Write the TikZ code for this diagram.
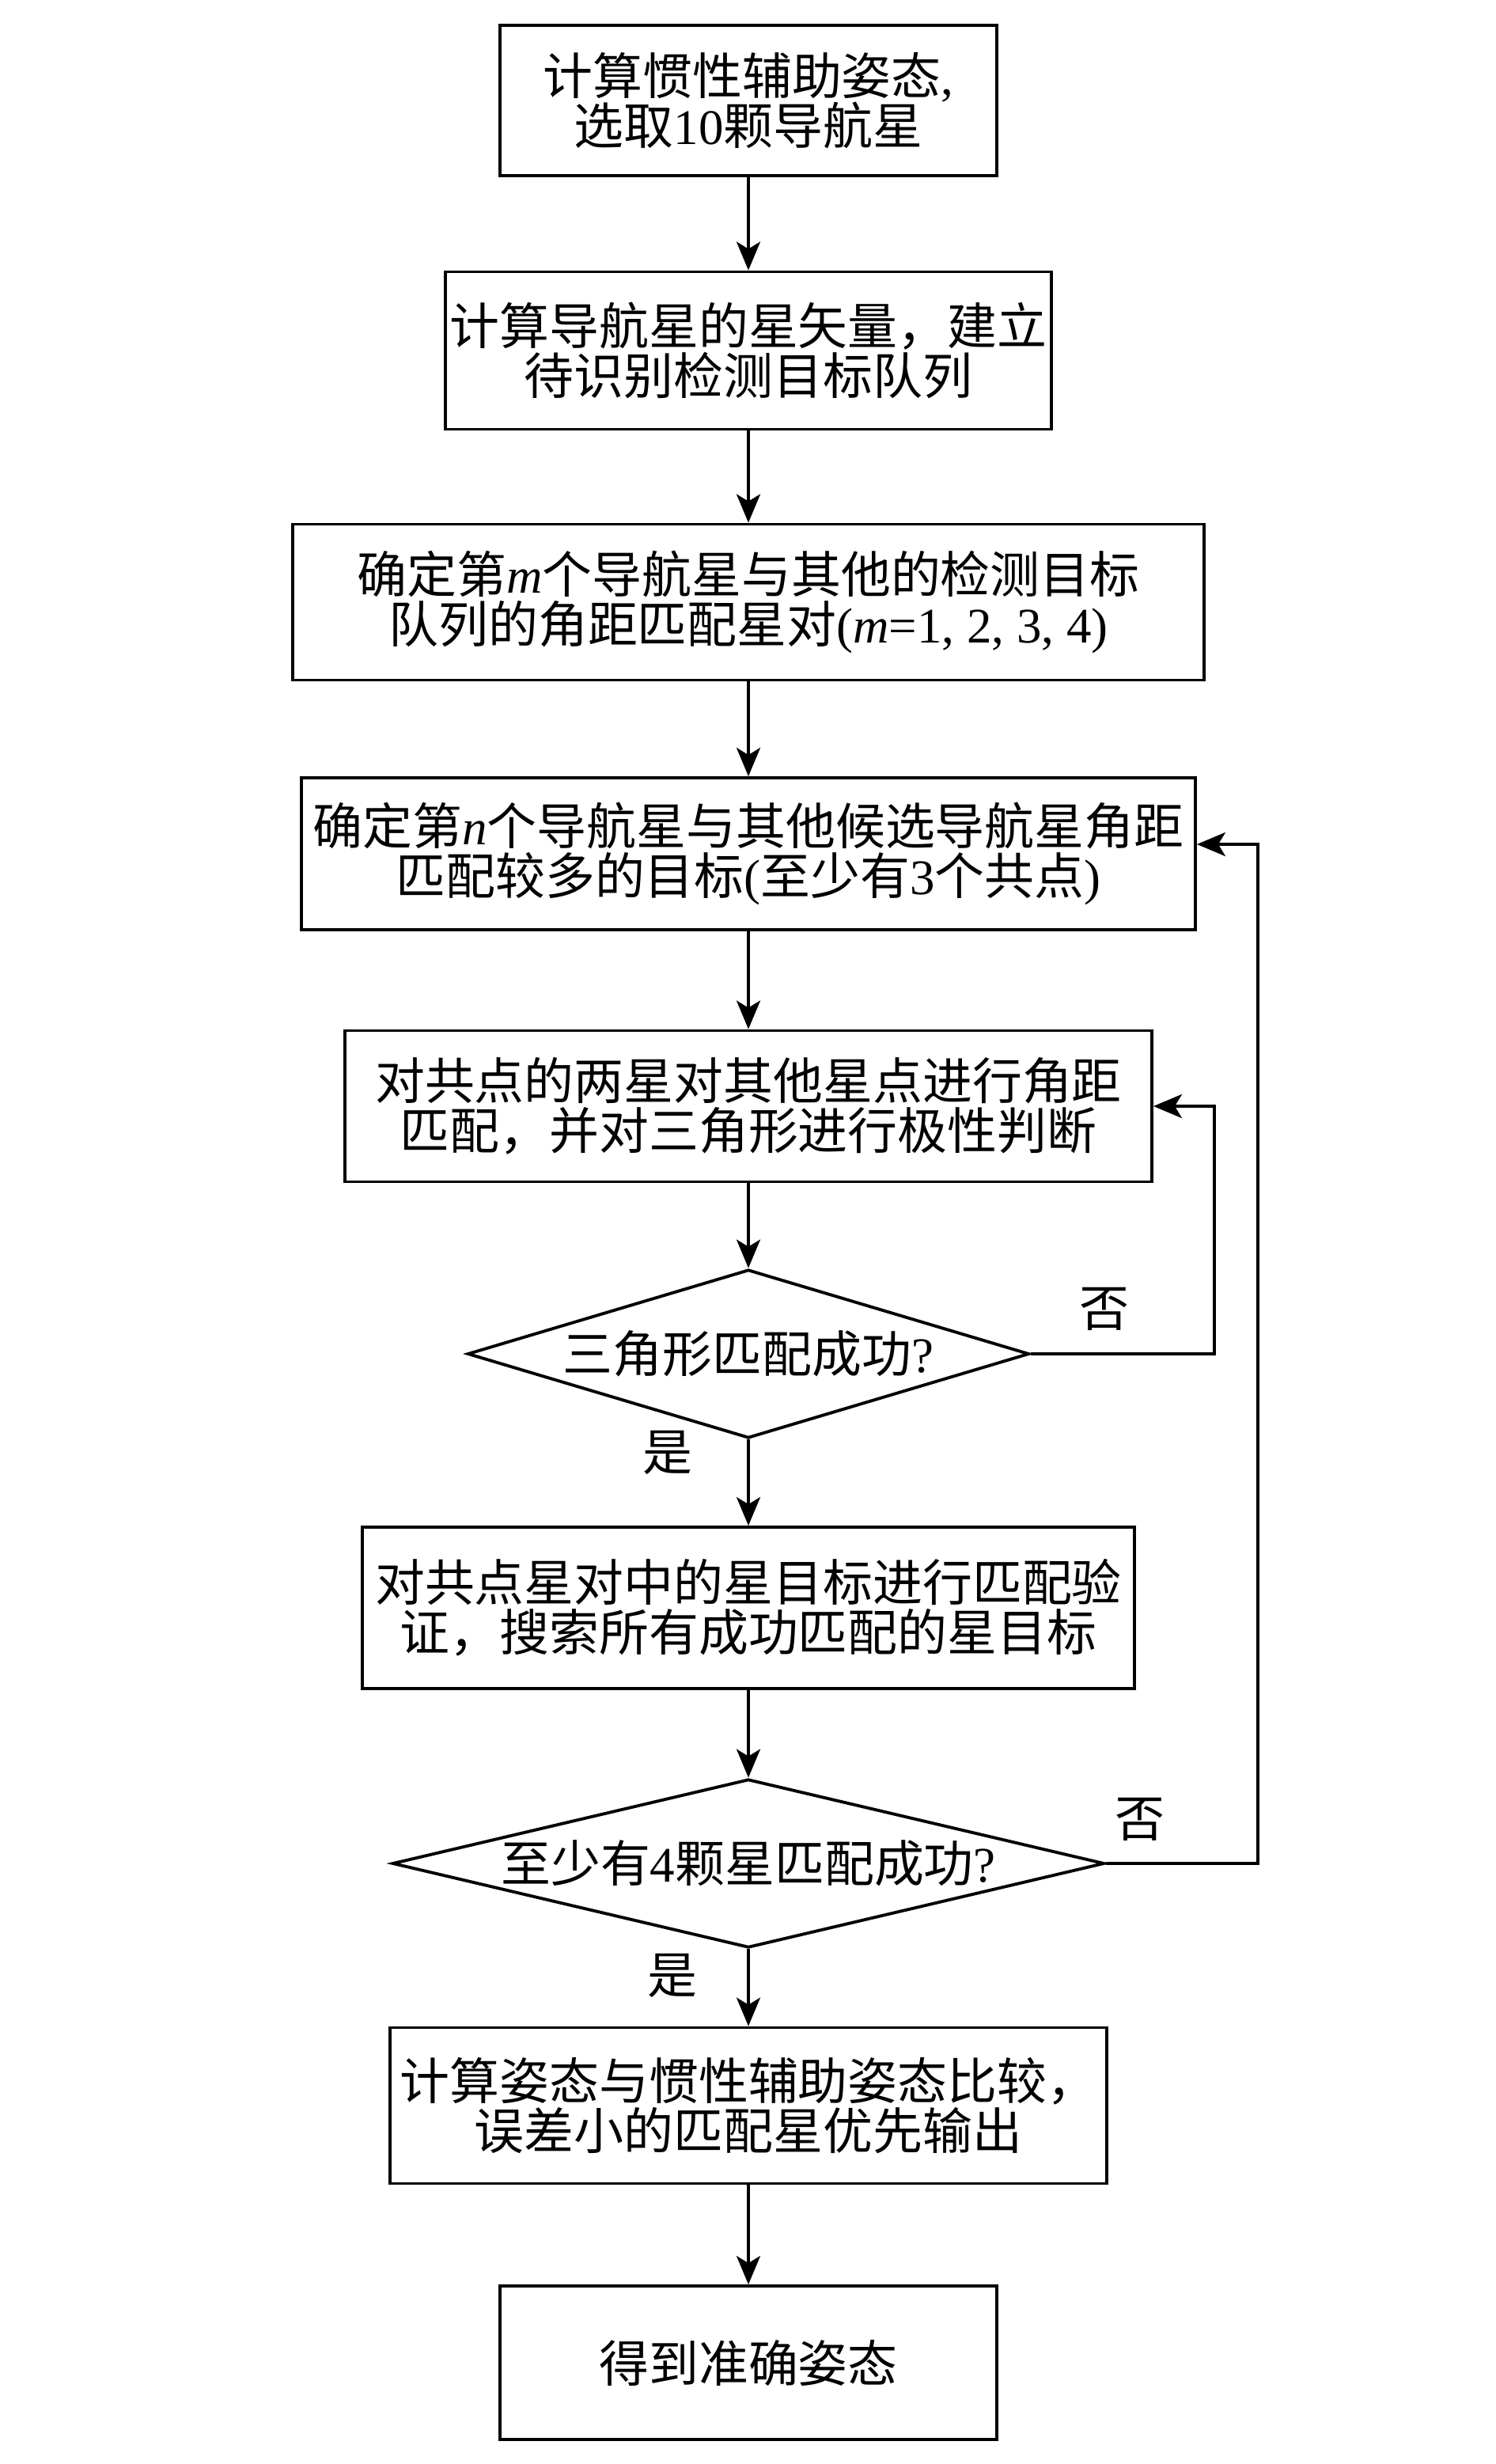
\documentclass[tikz,border=0pt]{standalone}
\usepackage{fontspec}
\setmainfont{Liberation Serif}
\newfontfamily\cjk{Noto Sans CJK SC}
\usepackage{tikz}
\usetikzlibrary{shapes.geometric, arrows.meta, positioning}
\newcommand{\rmtxt}[1]{{\rmfamily #1}}

\begin{document}
\begin{tikzpicture}[
        font=\cjk\fontsize{17.9}{18}\selectfont,
        stepbox/.style={draw, line width=1.1pt, rectangle, align=center, inner sep=0pt},
        decide/.style={draw, line width=1.1pt, diamond, align=center, inner sep=0pt},
        arr/.style={line width=1.1pt, -{Stealth[length=3.6mm, width=3mm, inset=0.9mm]}}
    ]
        \useasboundingbox (0,0) rectangle (18.9,-31.14);

        % Steps
        \node[stepbox, minimum width=6.28cm, minimum height=1.90cm] (init) at (9.46,-1.27)
            {计算惯性辅助姿态\rmtxt{,}\\选取\rmtxt{10}颗导航星};
        \node[stepbox, minimum width=7.66cm, minimum height=1.99cm] (vec) at (9.46,-4.43)
            {计算导航星的星矢量，建立\\待识别检测目标队列};
        \node[stepbox, minimum width=11.52cm, minimum height=1.97cm] (pairm) at (9.46,-7.61)
            {确定第\rmtxt{\itshape m}个导航星与其他的检测目标\\队列的角距匹配星对\rmtxt{(\itshape m\upshape =1, 2, 3, 4)}};
        \node[stepbox, minimum width=11.30cm, minimum height=1.92cm] (pairn) at (9.46,-10.79)
            {确定第\rmtxt{\itshape n}个导航星与其他候选导航星角距\\匹配较多的目标\rmtxt{(}至少有\rmtxt{3}个共点\rmtxt{)}};
        \node[stepbox, minimum width=10.20cm, minimum height=1.91cm] (tri) at (9.46,-13.98)
            {对共点的两星对其他星点进行角距\\匹配，并对三角形进行极性判断};
        \node[decide, aspect=3.33, minimum width=7.10cm, minimum height=2.13cm] (triok) at (9.46,-17.11)
            {三角形匹配成功\rmtxt{?}};
        \node[stepbox, minimum width=9.76cm, minimum height=2.04cm] (verify) at (9.46,-20.32)
            {对共点星对中的星目标进行匹配验\\证，搜索所有成功匹配的星目标};
        \node[decide, aspect=4.2, minimum width=9.00cm, minimum height=2.13cm] (fourok) at (9.46,-23.55)
            {至少有\rmtxt{4}颗星匹配成功\rmtxt{?}};
        \node[stepbox, minimum width=9.06cm, minimum height=1.97cm] (cmp) at (9.46,-26.61)
            {计算姿态与惯性辅助姿态比较，\\误差小的匹配星优先输出};
        \node[stepbox, minimum width=6.28cm, minimum height=1.94cm] (att) at (9.46,-29.86)
            {得到准确姿态};

        % Main flow
        \draw[arr] (init) -- (vec);
        \draw[arr] (vec) -- (pairm);
        \draw[arr] (pairm) -- (pairn);
        \draw[arr] (pairn) -- (tri);
        \draw[arr] (tri) -- (triok);
        \draw[arr] (triok) -- (verify);
        \draw[arr] (verify) -- (fourok);
        \draw[arr] (fourok) -- (cmp);
        \draw[arr] (cmp) -- (att);

        % Loops back
        \coordinate (back1) at (15.35,-17.11);
        \coordinate (back2) at (15.90,-23.55);
        \draw[arr] (triok.east) -- (back1) |- (tri.east);
        \draw[arr] (fourok.east) -- (back2) |- ([yshift=0.12cm]pairn.east);

        % Yes / no
        \node (no1) at (13.96,-16.54) {否};
        \node (yes1) at (8.44,-18.36) {是};
        \node (no2) at (14.41,-22.99) {否};
        \node (yes2) at (8.50,-24.97) {是};
\end{tikzpicture}
\end{document}
